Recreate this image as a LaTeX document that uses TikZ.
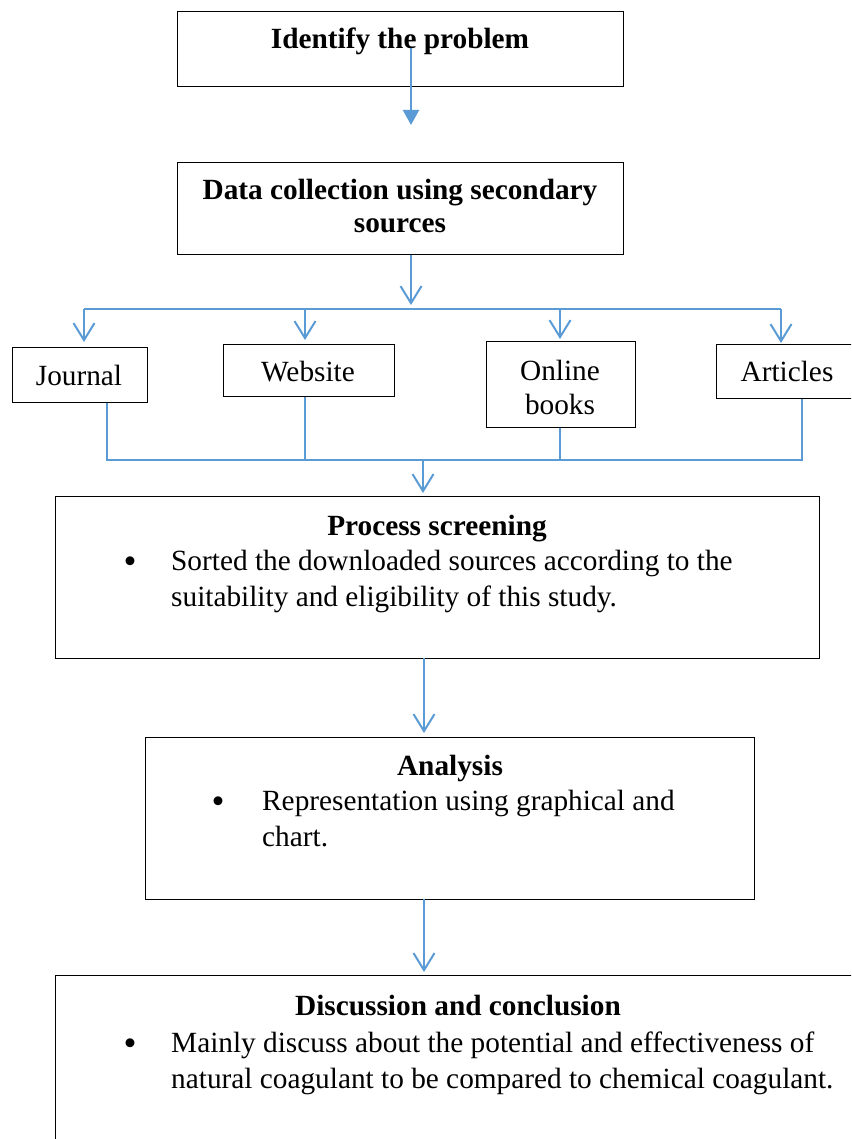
\documentclass[tikz,border=0pt]{standalone}
\usepackage{fontspec}
\setmainfont{Liberation Serif}
\usetikzlibrary{arrows.meta,calc}
\definecolor{arr}{RGB}{91,155,213}
\begin{document}
\begin{tikzpicture}[x=1pt,y=1pt,
  box/.style={draw=black, line width=1.1pt, inner sep=0pt, anchor=north west},
  txt/.style={inner sep=0pt, font=\fontsize{29.3}{36}\selectfont},
  btxt/.style={inner sep=0pt, font=\fontsize{29.3}{36}\selectfont\bfseries},
  bul/.style={inner sep=0pt, anchor=base, font=\fontsize{37}{37}\selectfont},
  conn/.style={draw=arr, line width=1.3pt},
  flow/.style={draw=arr, line width=2pt, -{Straight Barb[length=17pt,width=21pt,line width=2pt]}},
  tri/.style={draw=arr, line width=2.2pt, -{Triangle[length=15pt,width=16pt]}}
]
\clip (0,0) rectangle (851,-1139);
\fill[white] (0,0) rectangle (851,-1139);

% top box
\node[box, minimum width=446pt, minimum height=75pt] (b1) at (177,-11) {};
\node[btxt, anchor=base] (t1) at (400,-49) {Identify the problem};

% data collection
\node[box, minimum width=446pt, minimum height=92pt] (b2) at (177,-162) {};
\node[inner sep=0pt, anchor=base, font=\fontsize{29.3}{33}\selectfont\bfseries] (t2) at (400,-200)
  {\parbox[t]{440pt}{\centering Data collection using secondary\\sources}};

% sources
\node[box, minimum width=135pt, minimum height=55pt] (journal) at (12,-347) {};
\node[txt, anchor=base] (tj) at (79,-385) {Journal};
\node[box, minimum width=171pt, minimum height=52pt] (website) at (223,-344) {};
\node[txt, anchor=base] (tw) at (308,-381) {Website};
\node[box, minimum width=149pt, minimum height=86pt] (online) at (486,-341) {};
\node[inner sep=0pt, anchor=base, font=\fontsize{29.3}{34}\selectfont] (to) at (560,-380)
  {\parbox[t]{140pt}{\centering Online\\books}};
\node[box, minimum width=140pt, minimum height=54pt] (articles) at (716,-344) {};
\node[txt, anchor=base] (ta) at (787,-381) {Articles};

% process screening
\node[box, minimum width=764pt, minimum height=162pt] (process) at (55,-496) {};
\node[btxt, anchor=base] (tp) at (437,-535) {Process screening};
\node[bul] (bp) at (130,-573) {\textbullet};
\node[txt, anchor=base west] (tpb) at (171,-570)
  {\parbox[t]{640pt}{\raggedright Sorted the downloaded sources according to the\\suitability and eligibility of this study.}};

% analysis
\node[box, minimum width=609pt, minimum height=162pt] (analysis) at (145,-737) {};
\node[btxt, anchor=base] (tan) at (450,-775) {Analysis};
\node[bul] (ba) at (218,-813) {\textbullet};
\node[txt, anchor=base west] (tab) at (262,-810)
  {\parbox[t]{480pt}{\raggedright Representation using graphical and\\chart.}};

% discussion
\node[box, minimum width=806pt, minimum height=200pt] (disc) at (55,-975) {};
\node[btxt, anchor=base] (td) at (458,-1015) {Discussion and conclusion};
\node[bul] (bd) at (130,-1055) {\textbullet};
\node[txt, anchor=base west] (tdb) at (171,-1052)
  {\parbox[t]{680pt}{\raggedright Mainly discuss about the potential and effectiveness of\\natural coagulant to be compared to chemical coagulant.}};

% connectors
\coordinate (s1) at (411,-48);
\coordinate (e1) at (411,-125);
\draw[tri] (s1) -- (e1);

\coordinate (h0) at (411,-305);
\draw[flow] (b2.south -| s1) -- (h0);

\coordinate (hj) at (84,-309);
\coordinate (hw) at (305,-309);
\coordinate (ho) at (560,-309);
\coordinate (ha) at (781,-309);
\draw[draw=arr, line width=1.6pt] (hj) -- (ha);
\draw[flow, shorten >=5pt] (hj) -- (hj |- journal.north);
\draw[flow, shorten >=4pt] (hw) -- (hw |- website.north);
\draw[flow, shorten >=2pt] (ho) -- (ho |- online.north);
\draw[flow, shorten >=1pt] (ha) -- (ha |- articles.north);

\coordinate (bj) at (107,-460);
\coordinate (bw) at (305,-460);
\coordinate (bo) at (560,-460);
\coordinate (bb) at (802,-460);
\draw[conn] (bj |- journal.south) -- (bj) -- (bb) -- (bb |- articles.south);
\draw[conn] (bw |- website.south) -- (bw);
\draw[conn] (bo |- online.south) -- (bo);

\coordinate (m3) at (423,-460);
\draw[flow, shorten >=3pt] (m3) -- (m3 |- process.north);
\coordinate (m4) at (424,-658);
\draw[flow, shorten >=4pt] (m4) -- (m4 |- analysis.north);
\coordinate (m5) at (424,-899);
\draw[flow, shorten >=3pt] (m5) -- (m5 |- disc.north);
\end{tikzpicture}
\end{document}
